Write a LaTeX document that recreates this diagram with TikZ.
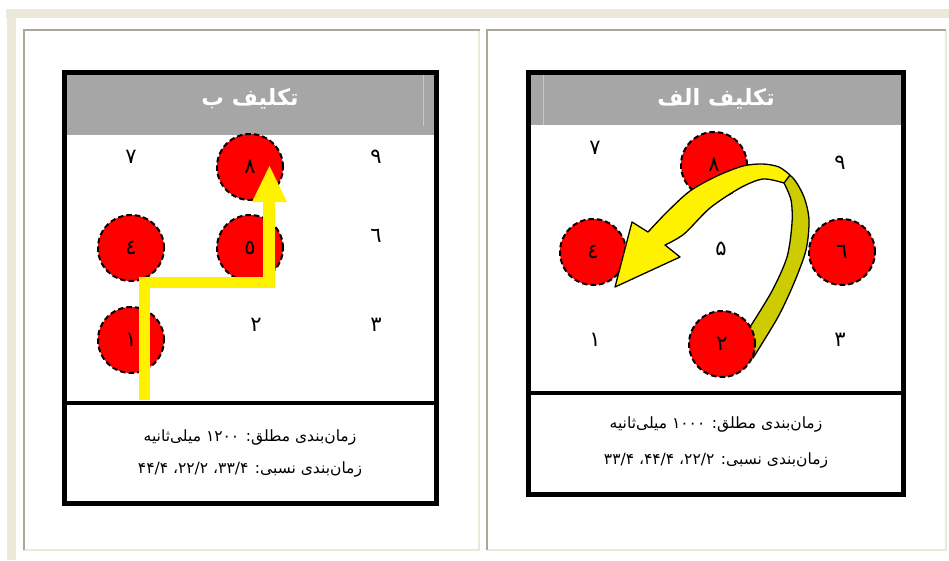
\documentclass[tikz,border=0pt]{standalone}
\usepackage{fontspec}
\newfontfamily\arabicfont[Script=Arabic]{DejaVu Sans}
\TeXXeTstate=1
\definecolor{beige}{HTML}{ECE9D8}
\definecolor{framegray}{HTML}{ACA899}
\definecolor{headgray}{HTML}{A6A6A6}
\definecolor{headline}{HTML}{C8C8C8}
\definecolor{olive}{HTML}{CCCC00}
\begin{document}
\begin{tikzpicture}[x=1pt,y=-1pt,
  redcirc/.style={circle, fill=red, draw=black, line width=2pt, dash pattern=on 5.5pt off 3pt,
    minimum size=66pt, inner sep=0pt, font=\arabicfont\fontsize{21}{21}\selectfont},
  digit/.style={inner sep=0pt, font=\arabicfont\fontsize{21}{21}\selectfont},
  panelbox/.style={draw=black, line width=5pt},
  sepline/.style={draw=black, line width=4.5pt},
  headtext/.style={text=white, font=\arabicfont\bfseries\fontsize{22.5}{22.5}\selectfont},
  bodytext/.style={font=\arabicfont\fontsize{15.5}{15.5}\selectfont, inner sep=0pt},
  yellowpath/.style={draw=yellow, line width=11.5pt},
  arrowline/.style={draw=black, line width=1.3pt, line join=round}
]
\useasboundingbox (0,0) rectangle (949,560);
\fill[white] (0,0) rectangle (949,560);
% outer frame
\fill[beige] (6,9) rectangle (949,18);
\fill[beige] (7,9) rectangle (16,560);
% cells
\draw[beige, line width=2pt] (479,30) -- (479,550) -- (23,550);
\draw[framegray, line width=2pt] (24,550) -- (24,30) -- (480,30);
\draw[beige, line width=2pt] (946,30) -- (946,550) -- (487,550);
\draw[framegray, line width=2pt] (487,550) -- (487,30) -- (946,30);

% ================= LEFT PANEL =================
\fill[headgray] (65,73) rectangle (435,135);
\draw[headline, line width=0.8pt] (423,75) -- (423,126);
\node[headtext] (hb) at (250,99) {\beginR تکلیف ب\endR};
\draw[sepline] (64,403) -- (436,403);

\node[redcirc] (b8) at (250,167) {٨};
\node[redcirc] (b4) at (131,248) {٤};
\node[redcirc] (b5) at (250,248) {٥};
\node[redcirc] (b1) at (131,340) {١};
\node[digit] (b7) at (131,157) {٧};
\node[digit] (b9) at (376,157) {٩};
\node[digit] (b6) at (376,236) {٦};
\node[digit] (b2) at (256,325) {٢};
\node[digit] (b3) at (376,325) {٣};

\coordinate (ps) at (144.5,400);
\coordinate (pc1) at (144.5,282.5);
\coordinate (pc2) at (269,282.5);
\coordinate (pe) at (269,200);
\draw[yellowpath, line join=miter] (ps) -- (pc1) -- (pc2) -- (pe);
\fill[yellow] (252,202) -- (269.5,166) -- (287,202) -- cycle;

\node[bodytext] (bt1) at (250,437) {\beginR زمان‌بندی مطلق: \beginL۱۲۰۰\endL{} میلی‌ثانیه\endR};
\node[bodytext] (bt2) at (250,469) {\beginR زمان‌بندی نسبی: \beginL۳۳/۴\endL، \beginL۲۲/۲\endL، \beginL۴۴/۴\endL\endR};
\draw[panelbox] (64.5,72.5) rectangle (436,503.5);

% ================= RIGHT PANEL =================
\fill[headgray] (529,73) rectangle (902,125);
\draw[headline, line width=0.8pt] (543,75) -- (543,125);
\node[headtext] (ha) at (716,99) {\beginR تکلیف الف\endR};
\draw[sepline] (528,393) -- (903,393);

\node[redcirc] (a8) at (714,165) {٨};
\node[redcirc] (a4) at (593,252) {٤};
\node[redcirc] (a6) at (842,252) {٦};
\node[digit] (a7) at (595,148) {٧};
\node[digit] (a9) at (840,163) {٩};
\node[digit] (a5) at (721,249) {۵};
\node[digit] (a1) at (595,340) {١};
\node[digit] (a3) at (840,340) {٣};

% curved 3D arrow: back band
\filldraw[fill=olive, arrowline]
  plot[smooth] coordinates {(777,167) (793,178) (804,197) (809,220) (806,250) (794,283) (778,317) (753,358)}
  -- (746,333) --
  plot[smooth] coordinates {(750,327) (772,291) (787,257) (792,223) (791,200) (784,183)}
  -- cycle;
% front band with head
\filldraw[fill=yellow, arrowline]
  (615,287) -- (632,222) -- (648,232) --
  plot[smooth] coordinates {(648,232) (667,212) (690,191) (717,176) (743,166) (763,164) (779,167) (790,175)}
  -- plot[smooth] coordinates {(784,183) (763,179) (740,188) (710,208) (684,234) (665,245)}
  -- (680,257) -- cycle;

\node[redcirc] (a2) at (722,344) {٢};

\node[bodytext] (at1) at (716,424) {\beginR زمان‌بندی مطلق: \beginL۱۰۰۰\endL{} میلی‌ثانیه\endR};
\node[bodytext] (at2) at (716,460) {\beginR زمان‌بندی نسبی: \beginL۲۲/۲\endL، \beginL۴۴/۴\endL، \beginL۳۳/۴\endL\endR};
\draw[panelbox] (528.5,72.5) rectangle (903.5,494.5);
\end{tikzpicture}
\end{document}
